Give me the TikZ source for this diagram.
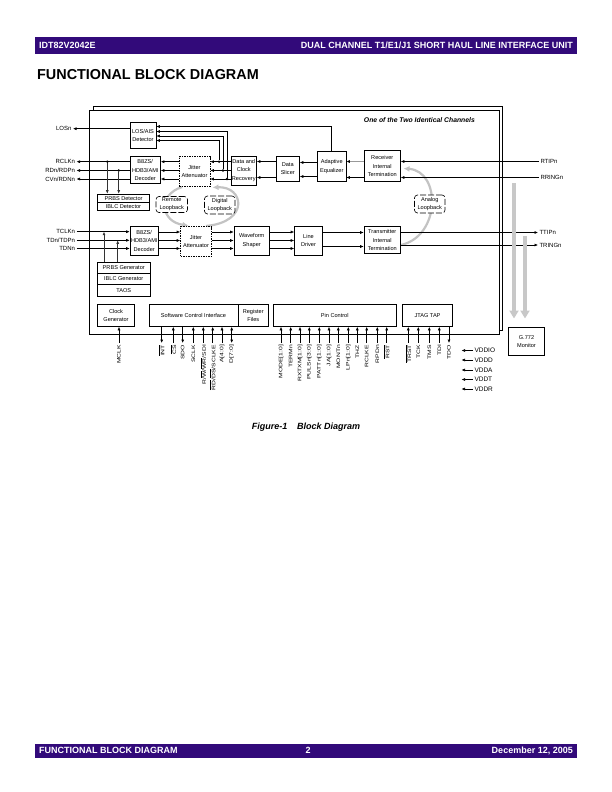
\documentclass[tikz,border=0pt]{standalone}
\usepackage{fontspec}
\usepackage{graphicx}
\setmainfont{Liberation Sans}
\usetikzlibrary{arrows.meta}
\definecolor{hdr}{RGB}{50,10,122}
\definecolor{loopg}{RGB}{195,195,195}
\definecolor{monig}{RGB}{200,200,200}
\newcommand\ovl[1]{$\overline{\mbox{#1}}$}
\begin{document}
\begin{tikzpicture}[x=1pt,y=-1pt,
  >={Latex[length=3.5pt,width=3pt]},
  blk/.style={draw,line width=0.6pt,fill=white,inner sep=0pt,align=center,
     font=\fontsize{5.6}{8.5}\selectfont},
  dblk/.style={blk,dash pattern=on 1.5pt off 1pt},
  bubble/.style={draw,line width=0.6pt,fill=white,rounded corners=3pt,
     dash pattern=on 6pt off 2pt,inner sep=0pt,align=center,font=\fontsize{5.6}{8}\selectfont},
  sig/.style={line width=0.6pt},
  tap/.style={line width=1pt,draw=black!80},
  lbl/.style={font=\fontsize{6}{7}\selectfont,inner sep=0pt,outer sep=1.5pt},
  pinlbl/.style={rotate=90,anchor=east,inner sep=0pt,outer sep=2pt,font=\fontsize{5}{6}\selectfont},
  pu/.style={<-},pd/.style={->},pb/.style={<->},
  loopa/.style={draw=loopg,line width=2.2pt,-{Latex[length=6pt,width=6pt]}},
  monia/.style={draw=monig,line width=3.5pt,-{Triangle[length=8pt,width=9pt]}},
  jdot/.style={circle,fill,inner sep=0pt,minimum size=2.6pt},
]
\useasboundingbox (0,0) rectangle (612,792);
% header / footer
\fill[hdr] (35,37) rectangle (577,54);
\node[anchor=west,text=white,font=\bfseries\fontsize{9}{10}\selectfont,inner sep=0pt] (hl) at (39,45.5) {IDT82V2042E};
\node[anchor=east,text=white,font=\bfseries\fontsize{9}{10}\selectfont,inner sep=0pt] (hr) at (573,45.5) {DUAL CHANNEL T1/E1/J1 SHORT HAUL LINE INTERFACE UNIT};
\node[anchor=west,font=\bfseries\fontsize{14.4}{16}\selectfont,inner sep=0pt] (title) at (37,75) {FUNCTIONAL BLOCK DIAGRAM};
\fill[hdr] (35,744) rectangle (577,757.5);
\node[anchor=west,text=white,font=\bfseries\fontsize{9}{10}\selectfont,inner sep=0pt] (fl) at (39,750.5) {FUNCTIONAL BLOCK DIAGRAM};
\node[text=white,font=\bfseries\fontsize{9}{10}\selectfont,inner sep=0pt] (fc) at (308,750.5) {2};
\node[anchor=east,text=white,font=\bfseries\fontsize{9}{10}\selectfont,inner sep=0pt] (fr) at (573,750.5) {December 12, 2005};
\node[font=\bfseries\itshape\fontsize{9}{10}\selectfont,inner sep=0pt] (cap) at (306,427.5) {Figure-1\hspace{1.1em}Block Diagram};

% frames
\draw[line width=0.9pt] (93,106) rectangle (502.5,330);
\draw[line width=0.9pt,fill=white] (89.5,110) rectangle (499,334);
\node[anchor=east,font=\bfseries\itshape\fontsize{6.8}{8}\selectfont,inner sep=0pt] (chan) at (475,120) {One of the Two Identical Channels};

% loopback arcs (behind bubbles)
\draw[loopa] (182,187) .. controls (157,195) and (161,222) .. (188.5,225.5);
\draw[loopa] (206,226) .. controls (250,222) and (244,186) .. (212.5,187.5);
\draw[loopa] (401,245) .. controls (441,236) and (441,171) .. (403.5,168.5);

% blocks
\node[blk,minimum width=26,minimum height=25.5] (los) at (143,135.25) {LOS/AIS\\Detector};
\node[blk,minimum width=30.5,minimum height=27] (dec1) at (145.25,170) {B8ZS/\\HDB3/AMI\\Decoder};
\node[dblk,minimum width=31,minimum height=29.5] (ja1) at (194.5,171.25) {Jitter\\Attenuator};
\node[blk,minimum width=25.5,minimum height=29] (dcr) at (243.75,170.5) {Data and\\Clock\\Recovery};
\node[blk,minimum width=23.5,minimum height=25] (sl) at (287.75,168.5) {Data\\Slicer};
\node[blk,minimum width=28.5,minimum height=30] (eq) at (331.75,166.5) {Adaptive\\Equalizer};
\node[blk,minimum width=36.5,minimum height=31] (rx) at (382.25,166) {Receiver\\Internal\\Termination};
\node[blk,minimum width=52,minimum height=8.3] (pdet) at (123.5,198.15) {PRBS Detector};
\node[blk,minimum width=52,minimum height=8.3] (idet) at (123.5,206.45) {IBLC Detector};
\node[bubble,minimum width=31.5,minimum height=16] (rlb) at (171.75,204.5) {Remote\\Loopback};
\node[bubble,minimum width=30.5,minimum height=18] (dlb) at (219.75,205) {Digital\\Loopback};
\node[bubble,minimum width=30.5,minimum height=18] (alb) at (429.75,204) {Analog\\Loopback};
\node[blk,minimum width=28.5,minimum height=28.5] (dec2) at (144.25,240.75) {B8ZS/\\HDB3/AMI\\Decoder};
\node[dblk,minimum width=31,minimum height=29.5] (ja2) at (196,241.25) {Jitter\\Attenuator};
\node[blk,minimum width=35.5,minimum height=29] (ws) at (251.75,240.5) {Waveform\\Shaper};
\node[blk,minimum width=28,minimum height=29] (ld) at (308.5,240.5) {Line\\Driver};
\node[blk,minimum width=36.5,minimum height=27] (tx) at (382.25,240) {Transmitter\\Internal\\Termination};
\node[blk,minimum width=52.5,minimum height=11.3] (pgen) at (123.75,267.65) {PRBS Generator};
\node[blk,minimum width=52.5,minimum height=11.3] (igen) at (123.75,278.95) {IBLC Generator};
\node[blk,minimum width=52.5,minimum height=11.3] (taos) at (123.75,290.25) {TAOS};
\node[blk,minimum width=37,minimum height=22.5] (clk) at (116,315.25) {Clock\\Generator};
\node[blk,minimum width=89,minimum height=22.5] (sci) at (193.5,315.25) {Software Control Interface};
\node[blk,minimum width=30.5,minimum height=22.5] (reg) at (253.25,315.25) {Register\\Files};
\node[blk,minimum width=122.5,minimum height=22.5] (pc) at (334.75,315.25) {Pin Control};
\node[blk,minimum width=50,minimum height=22.5] (jtag) at (427.5,315.25) {JTAG TAP};
\node[blk,minimum width=36,minimum height=28] (g772) at (526.5,341.5) {G.772\\Monitor};

% receive path
\node[lbl,anchor=east] (losn) at (73,128.7) {LOSn};
\draw[sig,->] (los.west |- losn) -- (losn.east);
\node[lbl,anchor=east] (rclk) at (76.5,161.7) {RCLKn};
\node[lbl,anchor=east] (rdn) at (76.5,170.5) {RDn/RDPn};
\node[lbl,anchor=east] (cvn) at (76.5,179) {CVn/RDNn};
\draw[sig,->] (dec1.west |- rclk) -- (rclk.east);
\draw[sig,->] (dec1.west |- rdn) -- (rdn.east);
\draw[sig,->] (dec1.west |- cvn) -- (cvn.east);
\node[jdot] (ta) at (107.3,161.7) {};
\node[jdot] (tb) at (118.7,170.5) {};
\draw[tap,->] (ta) -- (ta |- pdet.north);
\draw[tap,->] (tb) -- (tb |- pdet.north);
\foreach \yy in {161.7,170.5,179} {
  \draw[sig,->] (ja1.west |- 0,\yy) -- (dec1.east |- 0,\yy);
  \draw[sig,->] (dcr.west |- 0,\yy) -- (ja1.east |- 0,\yy);
}
\node[jdot] (d1) at (219,161.7) {};
\node[jdot] (d2) at (223,170.5) {};
\node[jdot] (d3) at (227,179) {};
\draw[sig,->] (eq.north) -- (eq.north |- 0,126.5) -- (los.east |- 0,126.5);
\draw[sig,->] (d3) -- (227,131.5) -- (los.east |- 0,131.5);
\draw[sig,->] (d2) -- (223,136) -- (los.east |- 0,136);
\draw[sig,->] (d1) -- (219,140.5) -- (los.east |- 0,140.5);
\draw[sig,->] (sl.west |- 0,161.5) -- (dcr.east |- 0,161.5);
\draw[sig,->] (sl.west |- 0,177.5) -- (dcr.east |- 0,177.5);
\draw[sig,->] (eq.west |- 0,162.5) -- (sl.east |- 0,162.5);
\draw[sig,->] (eq.west |- 0,176.5) -- (sl.east |- 0,176.5);
\draw[line width=1pt,draw=black!40,-{Latex[length=3.5pt,width=3pt,color=black]}] (rx.west |- 0,161.5) -- (eq.east |- 0,161.5);
\draw[sig,->] (rx.west |- 0,177.5) -- (eq.east |- 0,177.5);
\node[lbl,anchor=west] (rtip) at (539,161.5) {RTIPn};
\node[lbl,anchor=west] (rring) at (539,177.5) {RRINGn};
\draw[sig,->] (rtip.west) -- (rx.east |- rtip);
\draw[sig,->] (rring.west) -- (rx.east |- rring);

% transmit path
\node[lbl,anchor=east] (tclk) at (76.5,231.7) {TCLKn};
\node[lbl,anchor=east] (tdn) at (76.5,240.3) {TDn/TDPn};
\node[lbl,anchor=east] (tdnn) at (76.5,248.5) {TDNn};
\draw[sig,->] (tclk.east) -- (dec2.west |- tclk);
\draw[sig,->] (tdn.east) -- (dec2.west |- tdn);
\draw[sig,->] (tdnn.east) -- (dec2.west |- tdnn);
\draw[tap,->] (pgen.north -| 104,0) -- (104,231.7);
\draw[tap,->] (pgen.north -| 117.7,0) -- (117.7,240.3);
\foreach \yy in {232,240.5,248.5} {
  \draw[sig,->] (dec2.east |- 0,\yy) -- (ja2.west |- 0,\yy);
  \draw[sig,->] (ja2.east |- 0,\yy) -- (ws.west |- 0,\yy);
  \draw[sig,->] (ws.east |- 0,\yy) -- (ld.west |- 0,\yy);
}
\draw[sig,->] (ld.east |- 0,232.5) -- (tx.west |- 0,232.5);
\draw[sig,->] (ld.east |- 0,246.5) -- (tx.west |- 0,246.5);
\node[lbl,anchor=west] (ttip) at (538,232.5) {TTIPn};
\node[lbl,anchor=west] (tring) at (538,245) {TRINGn};
\draw[sig,->] (tx.east |- ttip) -- (ttip.west);
\draw[sig,->] (tx.east |- tring) -- (tring.west);

% G.772 monitor taps
\draw[monia] (514,183) -- (514,318.5);
\draw[monia] (525,236) -- (525,318.5);

% MCLK
\node[pinlbl] (mclk) at (119,343) {\scalebox{1.35}[1]{MCLK}};
\draw[sig,->] (mclk.east) -- (clk.south -| mclk.east);

% SCI pins
\foreach \x/\t/\s [count=\i] in {161.7/{\ovl{INT}}/pd, 173.3/{\ovl{CS}}/pu, 182.7/{SDO}/pd, 193.3/{SCLK}/pu, 203.3/{R/\ovl{W}/\ovl{WR}/SDI}/pu, 212.7/{\ovl{RD}/\ovl{DS}/SCLKE}/pu, 222/{A[4:0]}/pu, 231.7/{D[7:0]}/pb} {
  \node[pinlbl] (sp\i) at (\x,343) {\scalebox{1.35}[1]{\t}};
  \draw[sig,\s] (sci.south -| sp\i.east) -- (sp\i.east);
}
% pin control pins
\foreach \x/\t [count=\i] in {281/{MODE[1:0]}, 290.7/{TERMn}, 300/{RXTXM[1:0]}, 309.3/{PULSn[3:0]}, 319.3/{PATTn[1:0]}, 329/{JA[1:0]}, 338.3/{MONTn}, 348.3/{LPn[1:0]}, 357.3/{THZ}, 366.7/{RCLKE}, 377.3/{RPDn}, 386.7/{\ovl{RST}}} {
  \node[pinlbl] (pp\i) at (\x,343) {\scalebox{1.35}[1]{\t}};
  \draw[sig,<-] (pc.south -| pp\i.east) -- (pp\i.east);
}
% JTAG pins
\foreach \x/\t/\s [count=\i] in {408.3/{\ovl{TRST}}/pu, 418.3/{TCK}/pu, 429.3/{TMS}/pu, 439.3/{TDI}/pu, 449/{TDO}/pd} {
  \node[pinlbl] (jp\i) at (\x,343) {\scalebox{1.35}[1]{\t}};
  \draw[sig,\s] (jtag.south -| jp\i.east) -- (jp\i.east);
}
% power pins
\foreach \t/\yy [count=\i] in {VDDIO/350.5, VDDD/360, VDDA/370, VDDT/379.5, VDDR/389} {
  \node[lbl,anchor=west,font=\fontsize{6.5}{7}\selectfont] (vp\i) at (473,\yy) {\t};
  \coordinate (va\i) at (461.5,\yy);
  \draw[sig,->] (vp\i.west) -- (va\i);
}
\end{tikzpicture}
\end{document}
